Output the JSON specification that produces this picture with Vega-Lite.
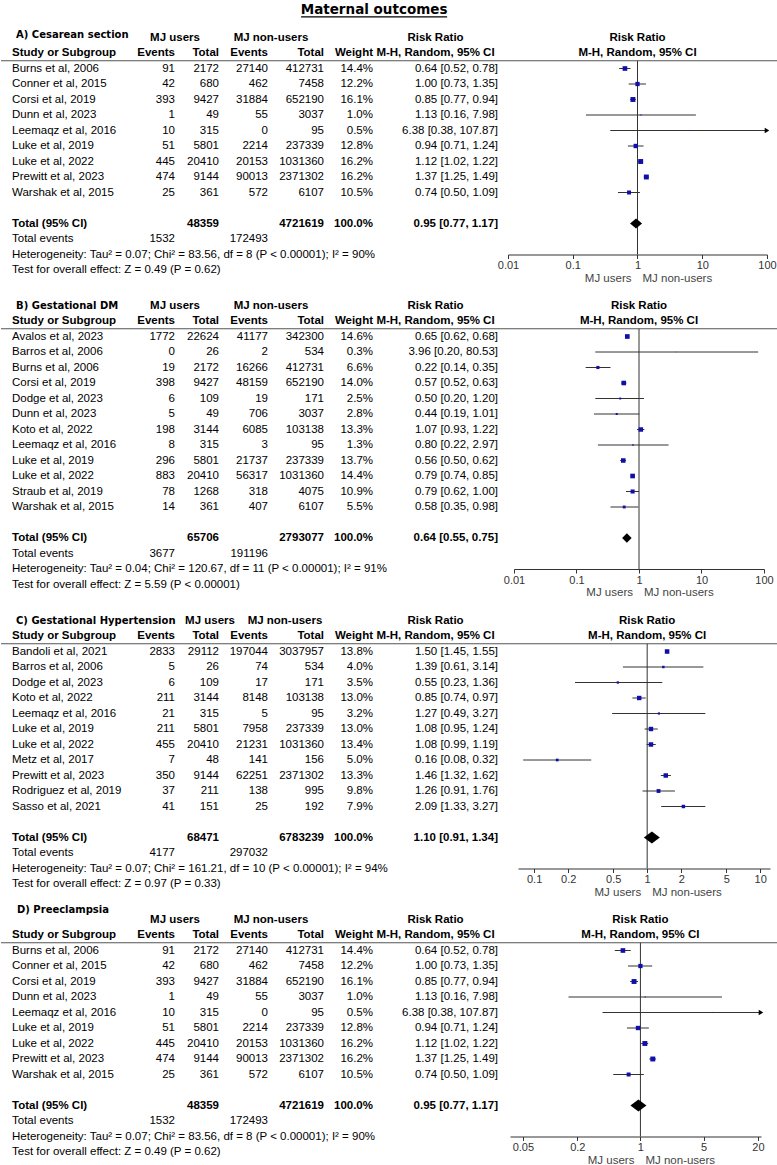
{
"$schema":"https://vega.github.io/schema/vega-lite/v6.json",
"padding":0,
"background":"white",
"config":{"view":{"stroke":null},"axisBand":{"disable":true},"axisY":{"disable":true},"legend":{"disable":true},"text":{"font":"Liberation Sans","fontSize":11.5},"axis":{"labelFont":"Liberation Sans"}},
"datasets":{
"A":[
{"study":"Burns et al, 2006","e1":91,"n1":2172,"e2":27140,"n2":412731,"w":0.144,"rr":0.64,"lo":0.52,"hi":0.78,"ci":"0.64 [0.52, 0.78]"},
{"study":"Conner et al, 2015","e1":42,"n1":680,"e2":462,"n2":7458,"w":0.122,"rr":1.0,"lo":0.73,"hi":1.35,"ci":"1.00 [0.73, 1.35]"},
{"study":"Corsi et al, 2019","e1":393,"n1":9427,"e2":31884,"n2":652190,"w":0.161,"rr":0.85,"lo":0.77,"hi":0.94,"ci":"0.85 [0.77, 0.94]"},
{"study":"Dunn et al, 2023","e1":1,"n1":49,"e2":55,"n2":3037,"w":0.01,"rr":1.13,"lo":0.16,"hi":7.98,"ci":"1.13 [0.16, 7.98]"},
{"study":"Leemaqz et al, 2016","e1":10,"n1":315,"e2":0,"n2":95,"w":0.005,"rr":6.38,"lo":0.38,"hi":107.87,"ci":"6.38 [0.38, 107.87]"},
{"study":"Luke et al, 2019","e1":51,"n1":5801,"e2":2214,"n2":237339,"w":0.128,"rr":0.94,"lo":0.71,"hi":1.24,"ci":"0.94 [0.71, 1.24]"},
{"study":"Luke et al, 2022","e1":445,"n1":20410,"e2":20153,"n2":1031360,"w":0.162,"rr":1.12,"lo":1.02,"hi":1.22,"ci":"1.12 [1.02, 1.22]"},
{"study":"Prewitt et al, 2023","e1":474,"n1":9144,"e2":90013,"n2":2371302,"w":0.162,"rr":1.37,"lo":1.25,"hi":1.49,"ci":"1.37 [1.25, 1.49]"},
{"study":"Warshak et al, 2015","e1":25,"n1":361,"e2":572,"n2":6107,"w":0.105,"rr":0.74,"lo":0.5,"hi":1.09,"ci":"0.74 [0.50, 1.09]"}
],
"A_tot":[{"label":"Total (95% CI)","e1":1532,"n1":48359,"e2":172493,"n2":4721619,"w":1,"rr":0.95,"lo":0.77,"hi":1.17,"ci":"0.95 [0.77, 1.17]","het":"Heterogeneity: Tau² = 0.07; Chi² = 83.56, df = 8 (P < 0.00001); I² = 90%","test":"Test for overall effect: Z = 0.49 (P = 0.62)"}],
"B":[
{"study":"Avalos et al, 2023","e1":1772,"n1":22624,"e2":41177,"n2":342300,"w":0.146,"rr":0.65,"lo":0.62,"hi":0.68,"ci":"0.65 [0.62, 0.68]"},
{"study":"Barros et al, 2006","e1":0,"n1":26,"e2":2,"n2":534,"w":0.003,"rr":3.96,"lo":0.2,"hi":80.53,"ci":"3.96 [0.20, 80.53]"},
{"study":"Burns et al, 2006","e1":19,"n1":2172,"e2":16266,"n2":412731,"w":0.066,"rr":0.22,"lo":0.14,"hi":0.35,"ci":"0.22 [0.14, 0.35]"},
{"study":"Corsi et al, 2019","e1":398,"n1":9427,"e2":48159,"n2":652190,"w":0.14,"rr":0.57,"lo":0.52,"hi":0.63,"ci":"0.57 [0.52, 0.63]"},
{"study":"Dodge et al, 2023","e1":6,"n1":109,"e2":19,"n2":171,"w":0.025,"rr":0.5,"lo":0.2,"hi":1.2,"ci":"0.50 [0.20, 1.20]"},
{"study":"Dunn et al, 2023","e1":5,"n1":49,"e2":706,"n2":3037,"w":0.028,"rr":0.44,"lo":0.19,"hi":1.01,"ci":"0.44 [0.19, 1.01]"},
{"study":"Koto et al, 2022","e1":198,"n1":3144,"e2":6085,"n2":103138,"w":0.133,"rr":1.07,"lo":0.93,"hi":1.22,"ci":"1.07 [0.93, 1.22]"},
{"study":"Leemaqz et al, 2016","e1":8,"n1":315,"e2":3,"n2":95,"w":0.013,"rr":0.8,"lo":0.22,"hi":2.97,"ci":"0.80 [0.22, 2.97]"},
{"study":"Luke et al, 2019","e1":296,"n1":5801,"e2":21737,"n2":237339,"w":0.137,"rr":0.56,"lo":0.5,"hi":0.62,"ci":"0.56 [0.50, 0.62]"},
{"study":"Luke et al, 2022","e1":883,"n1":20410,"e2":56317,"n2":1031360,"w":0.144,"rr":0.79,"lo":0.74,"hi":0.85,"ci":"0.79 [0.74, 0.85]"},
{"study":"Straub et al, 2019","e1":78,"n1":1268,"e2":318,"n2":4075,"w":0.109,"rr":0.79,"lo":0.62,"hi":1.0,"ci":"0.79 [0.62, 1.00]"},
{"study":"Warshak et al, 2015","e1":14,"n1":361,"e2":407,"n2":6107,"w":0.055,"rr":0.58,"lo":0.35,"hi":0.98,"ci":"0.58 [0.35, 0.98]"}
],
"B_tot":[{"label":"Total (95% CI)","e1":3677,"n1":65706,"e2":191196,"n2":2793077,"w":1,"rr":0.64,"lo":0.55,"hi":0.75,"ci":"0.64 [0.55, 0.75]","het":"Heterogeneity: Tau² = 0.04; Chi² = 120.67, df = 11 (P < 0.00001); I² = 91%","test":"Test for overall effect: Z = 5.59 (P < 0.00001)"}],
"C":[
{"study":"Bandoli et al, 2021","e1":2833,"n1":29112,"e2":197044,"n2":3037957,"w":0.138,"rr":1.5,"lo":1.45,"hi":1.55,"ci":"1.50 [1.45, 1.55]"},
{"study":"Barros et al, 2006","e1":5,"n1":26,"e2":74,"n2":534,"w":0.04,"rr":1.39,"lo":0.61,"hi":3.14,"ci":"1.39 [0.61, 3.14]"},
{"study":"Dodge et al, 2023","e1":6,"n1":109,"e2":17,"n2":171,"w":0.035,"rr":0.55,"lo":0.23,"hi":1.36,"ci":"0.55 [0.23, 1.36]"},
{"study":"Koto et al, 2022","e1":211,"n1":3144,"e2":8148,"n2":103138,"w":0.13,"rr":0.85,"lo":0.74,"hi":0.97,"ci":"0.85 [0.74, 0.97]"},
{"study":"Leemaqz et al, 2016","e1":21,"n1":315,"e2":5,"n2":95,"w":0.032,"rr":1.27,"lo":0.49,"hi":3.27,"ci":"1.27 [0.49, 3.27]"},
{"study":"Luke et al, 2019","e1":211,"n1":5801,"e2":7958,"n2":237339,"w":0.13,"rr":1.08,"lo":0.95,"hi":1.24,"ci":"1.08 [0.95, 1.24]"},
{"study":"Luke et al, 2022","e1":455,"n1":20410,"e2":21231,"n2":1031360,"w":0.134,"rr":1.08,"lo":0.99,"hi":1.19,"ci":"1.08 [0.99, 1.19]"},
{"study":"Metz et al, 2017","e1":7,"n1":48,"e2":141,"n2":156,"w":0.05,"rr":0.16,"lo":0.08,"hi":0.32,"ci":"0.16 [0.08, 0.32]"},
{"study":"Prewitt et al, 2023","e1":350,"n1":9144,"e2":62251,"n2":2371302,"w":0.133,"rr":1.46,"lo":1.32,"hi":1.62,"ci":"1.46 [1.32, 1.62]"},
{"study":"Rodriguez et al, 2019","e1":37,"n1":211,"e2":138,"n2":995,"w":0.098,"rr":1.26,"lo":0.91,"hi":1.76,"ci":"1.26 [0.91, 1.76]"},
{"study":"Sasso et al, 2021","e1":41,"n1":151,"e2":25,"n2":192,"w":0.079,"rr":2.09,"lo":1.33,"hi":3.27,"ci":"2.09 [1.33, 3.27]"}
],
"C_tot":[{"label":"Total (95% CI)","e1":4177,"n1":68471,"e2":297032,"n2":6783239,"w":1,"rr":1.1,"lo":0.91,"hi":1.34,"ci":"1.10 [0.91, 1.34]","het":"Heterogeneity: Tau² = 0.07; Chi² = 161.21, df = 10 (P < 0.00001); I² = 94%","test":"Test for overall effect: Z = 0.97 (P = 0.33)"}],
"D":[
{"study":"Burns et al, 2006","e1":91,"n1":2172,"e2":27140,"n2":412731,"w":0.144,"rr":0.64,"lo":0.52,"hi":0.78,"ci":"0.64 [0.52, 0.78]"},
{"study":"Conner et al, 2015","e1":42,"n1":680,"e2":462,"n2":7458,"w":0.122,"rr":1.0,"lo":0.73,"hi":1.35,"ci":"1.00 [0.73, 1.35]"},
{"study":"Corsi et al, 2019","e1":393,"n1":9427,"e2":31884,"n2":652190,"w":0.161,"rr":0.85,"lo":0.77,"hi":0.94,"ci":"0.85 [0.77, 0.94]"},
{"study":"Dunn et al, 2023","e1":1,"n1":49,"e2":55,"n2":3037,"w":0.01,"rr":1.13,"lo":0.16,"hi":7.98,"ci":"1.13 [0.16, 7.98]"},
{"study":"Leemaqz et al, 2016","e1":10,"n1":315,"e2":0,"n2":95,"w":0.005,"rr":6.38,"lo":0.38,"hi":107.87,"ci":"6.38 [0.38, 107.87]"},
{"study":"Luke et al, 2019","e1":51,"n1":5801,"e2":2214,"n2":237339,"w":0.128,"rr":0.94,"lo":0.71,"hi":1.24,"ci":"0.94 [0.71, 1.24]"},
{"study":"Luke et al, 2022","e1":445,"n1":20410,"e2":20153,"n2":1031360,"w":0.162,"rr":1.12,"lo":1.02,"hi":1.22,"ci":"1.12 [1.02, 1.22]"},
{"study":"Prewitt et al, 2023","e1":474,"n1":9144,"e2":90013,"n2":2371302,"w":0.162,"rr":1.37,"lo":1.25,"hi":1.49,"ci":"1.37 [1.25, 1.49]"},
{"study":"Warshak et al, 2015","e1":25,"n1":361,"e2":572,"n2":6107,"w":0.105,"rr":0.74,"lo":0.5,"hi":1.09,"ci":"0.74 [0.50, 1.09]"}
],
"D_tot":[{"label":"Total (95% CI)","e1":1532,"n1":48359,"e2":172493,"n2":4721619,"w":1,"rr":0.95,"lo":0.77,"hi":1.17,"ci":"0.95 [0.77, 1.17]","het":"Heterogeneity: Tau² = 0.07; Chi² = 83.56, df = 8 (P < 0.00001); I² = 90%","test":"Test for overall effect: Z = 0.49 (P = 0.62)"}]
},
"spacing":10.2,
"bounds":"flush",
"vconcat":[
{"width":777,"height":17.5,"data":{"values":[{"t":"Maternal outcomes"}]},"layer":[
{"mark":{"type":"text","font":"DejaVu Sans","fontWeight":"bold","fontSize":13.5,"baseline":"alphabetic","dy":5},"encoding":{"x":{"field":"t","type":"nominal","scale":{"type":"band","domain":["l1","l2","Maternal outcomes","r1","r2"],"paddingInner":0,"paddingOuter":0.16,"align":0.17}},"text":{"field":"t"}}},
{"mark":{"type":"bar","color":"#000"},"encoding":{"x":{"field":"t","type":"nominal"},"y":{"datum":"u","type":"nominal","scale":{"type":"band","domain":["t","u"],"paddingInner":0.92,"paddingOuter":0}}}}
]},
{"columns":8,"align":"each","spacing":{"row":18,"column":0},"bounds":"flush","concat":[

{"width":130,"height":249.55,"data":{"name":"A"},"layer":[
{"mark":{"type":"text","align":"left"},"encoding":{"x":{"datum":"c","type":"nominal","bandPosition":0,"scale":{"type":"band","paddingInner":0,"paddingOuter":0.102}},"y":{"field":"study","type":"nominal","scale":{"type":"band","domain":["h1","h2","Burns et al, 2006","Conner et al, 2015","Corsi et al, 2019","Dunn et al, 2023","Leemaqz et al, 2016","Luke et al, 2019","Luke et al, 2022","Prewitt et al, 2023","Warshak et al, 2015","gap","Total (95% CI)","Total events","Heterogeneity","Test"],"paddingInner":0,"paddingOuter":0.05,"align":1}},"text":{"field":"study"}}},
{"data":{"name":"A_tot"},"mark":{"type":"text","align":"left","fontWeight":"bold"},"encoding":{"x":{"datum":"c","type":"nominal","bandPosition":0},"y":{"datum":"Total (95% CI)","type":"nominal"},"text":{"field":"label"}}},
{"data":{"name":"A_tot"},"mark":{"type":"text","align":"left"},"encoding":{"x":{"datum":"c","type":"nominal","bandPosition":0},"y":{"datum":"Total events","type":"nominal"},"text":{"value":"Total events"}}},
{"data":{"name":"A_tot"},"mark":{"type":"text","align":"left"},"encoding":{"x":{"datum":"c","type":"nominal","bandPosition":0},"y":{"datum":"Heterogeneity","type":"nominal"},"text":{"field":"het"}}},
{"data":{"name":"A_tot"},"mark":{"type":"text","align":"left"},"encoding":{"x":{"datum":"c","type":"nominal","bandPosition":0},"y":{"datum":"Test","type":"nominal"},"text":{"field":"test"}}},
{"data":{"name":"A_tot"},"mark":{"type":"text","align":"left","font":"DejaVu Sans","fontWeight":"bold","fontSize":10,"dx":4,"dy":-3},"encoding":{"x":{"datum":"c","type":"nominal","bandPosition":0},"y":{"datum":"h1","type":"nominal"},"text":{"value":"A) Cesarean section"}}},
{"data":{"name":"A_tot"},"mark":{"type":"text","align":"left","fontWeight":"bold"},"encoding":{"x":{"datum":"c","type":"nominal","bandPosition":0},"y":{"datum":"h2","type":"nominal"},"text":{"value":"Study or Subgroup"}}},
{"data":{"name":"A_tot"},"mark":{"type":"rule","color":"#555","strokeWidth":1.2},"encoding":{"y":{"datum":"Burns et al, 2006","type":"nominal","bandPosition":0}}}
]},
{"width":44,"height":249.55,"data":{"name":"A"},"layer":[
{"mark":{"type":"text","align":"right"},"encoding":{"x":{"datum":"c","type":"nominal","bandPosition":1,"scale":{"type":"band","paddingInner":0,"paddingOuter":0}},"y":{"field":"study","type":"nominal","scale":{"type":"band","domain":["h1","h2","Burns et al, 2006","Conner et al, 2015","Corsi et al, 2019","Dunn et al, 2023","Leemaqz et al, 2016","Luke et al, 2019","Luke et al, 2022","Prewitt et al, 2023","Warshak et al, 2015","gap","Total (95% CI)","Total events","Heterogeneity","Test"],"paddingInner":0,"paddingOuter":0.05,"align":1}},"text":{"field":"e1","type":"quantitative","format":"d"}}},
{"data":{"name":"A_tot"},"mark":{"type":"text","align":"right"},"encoding":{"x":{"datum":"c","type":"nominal","bandPosition":1},"y":{"datum":"Total events","type":"nominal"},"text":{"field":"e1","type":"quantitative","format":"d"}}},
{"data":{"name":"A_tot"},"mark":{"type":"text","align":"center","fontWeight":"bold"},"encoding":{"x":{"datum":"c","type":"nominal","bandPosition":1},"y":{"datum":"h1","type":"nominal"},"text":{"value":"MJ users"}}},
{"data":{"name":"A_tot"},"mark":{"type":"text","align":"right","fontWeight":"bold"},"encoding":{"x":{"datum":"c","type":"nominal","bandPosition":1},"y":{"datum":"h2","type":"nominal"},"text":{"value":"Events"}}},
{"data":{"name":"A_tot"},"mark":{"type":"rule","color":"#555","strokeWidth":1.2},"encoding":{"y":{"datum":"Burns et al, 2006","type":"nominal","bandPosition":0}}}
]},
{"width":44,"height":249.55,"data":{"name":"A"},"layer":[
{"mark":{"type":"text","align":"right"},"encoding":{"x":{"datum":"c","type":"nominal","bandPosition":1,"scale":{"type":"band","paddingInner":0,"paddingOuter":0}},"y":{"field":"study","type":"nominal","scale":{"type":"band","domain":["h1","h2","Burns et al, 2006","Conner et al, 2015","Corsi et al, 2019","Dunn et al, 2023","Leemaqz et al, 2016","Luke et al, 2019","Luke et al, 2022","Prewitt et al, 2023","Warshak et al, 2015","gap","Total (95% CI)","Total events","Heterogeneity","Test"],"paddingInner":0,"paddingOuter":0.05,"align":1}},"text":{"field":"n1","type":"quantitative","format":"d"}}},
{"data":{"name":"A_tot"},"mark":{"type":"text","align":"right","fontWeight":"bold"},"encoding":{"x":{"datum":"c","type":"nominal","bandPosition":1},"y":{"datum":"Total (95% CI)","type":"nominal"},"text":{"field":"n1","type":"quantitative","format":"d"}}},
{"data":{"name":"A_tot"},"mark":{"type":"text","align":"right","fontWeight":"bold"},"encoding":{"x":{"datum":"c","type":"nominal","bandPosition":1},"y":{"datum":"h2","type":"nominal"},"text":{"value":"Total"}}},
{"data":{"name":"A_tot"},"mark":{"type":"rule","color":"#555","strokeWidth":1.2},"encoding":{"y":{"datum":"Burns et al, 2006","type":"nominal","bandPosition":0}}}
]},
{"width":49,"height":249.55,"data":{"name":"A"},"layer":[
{"mark":{"type":"text","align":"right"},"encoding":{"x":{"datum":"c","type":"nominal","bandPosition":1,"scale":{"type":"band","paddingInner":0,"paddingOuter":0}},"y":{"field":"study","type":"nominal","scale":{"type":"band","domain":["h1","h2","Burns et al, 2006","Conner et al, 2015","Corsi et al, 2019","Dunn et al, 2023","Leemaqz et al, 2016","Luke et al, 2019","Luke et al, 2022","Prewitt et al, 2023","Warshak et al, 2015","gap","Total (95% CI)","Total events","Heterogeneity","Test"],"paddingInner":0,"paddingOuter":0.05,"align":1}},"text":{"field":"e2","type":"quantitative","format":"d"}}},
{"data":{"name":"A_tot"},"mark":{"type":"text","align":"right"},"encoding":{"x":{"datum":"c","type":"nominal","bandPosition":1},"y":{"datum":"Total events","type":"nominal"},"text":{"field":"e2","type":"quantitative","format":"d"}}},
{"data":{"name":"A_tot"},"mark":{"type":"text","align":"center","fontWeight":"bold","dx":3},"encoding":{"x":{"datum":"c","type":"nominal","bandPosition":1},"y":{"datum":"h1","type":"nominal"},"text":{"value":"MJ non-users"}}},
{"data":{"name":"A_tot"},"mark":{"type":"text","align":"right","fontWeight":"bold"},"encoding":{"x":{"datum":"c","type":"nominal","bandPosition":1},"y":{"datum":"h2","type":"nominal"},"text":{"value":"Events"}}},
{"data":{"name":"A_tot"},"mark":{"type":"rule","color":"#555","strokeWidth":1.2},"encoding":{"y":{"datum":"Burns et al, 2006","type":"nominal","bandPosition":0}}}
]},
{"width":56,"height":249.55,"data":{"name":"A"},"layer":[
{"mark":{"type":"text","align":"right"},"encoding":{"x":{"datum":"c","type":"nominal","bandPosition":1,"scale":{"type":"band","paddingInner":0,"paddingOuter":0}},"y":{"field":"study","type":"nominal","scale":{"type":"band","domain":["h1","h2","Burns et al, 2006","Conner et al, 2015","Corsi et al, 2019","Dunn et al, 2023","Leemaqz et al, 2016","Luke et al, 2019","Luke et al, 2022","Prewitt et al, 2023","Warshak et al, 2015","gap","Total (95% CI)","Total events","Heterogeneity","Test"],"paddingInner":0,"paddingOuter":0.05,"align":1}},"text":{"field":"n2","type":"quantitative","format":"d"}}},
{"data":{"name":"A_tot"},"mark":{"type":"text","align":"right","fontWeight":"bold"},"encoding":{"x":{"datum":"c","type":"nominal","bandPosition":1},"y":{"datum":"Total (95% CI)","type":"nominal"},"text":{"field":"n2","type":"quantitative","format":"d"}}},
{"data":{"name":"A_tot"},"mark":{"type":"text","align":"right","fontWeight":"bold"},"encoding":{"x":{"datum":"c","type":"nominal","bandPosition":1},"y":{"datum":"h2","type":"nominal"},"text":{"value":"Total"}}},
{"data":{"name":"A_tot"},"mark":{"type":"rule","color":"#555","strokeWidth":1.2},"encoding":{"y":{"datum":"Burns et al, 2006","type":"nominal","bandPosition":0}}}
]},
{"width":49,"height":249.55,"data":{"name":"A"},"layer":[
{"mark":{"type":"text","align":"right"},"encoding":{"x":{"datum":"c","type":"nominal","bandPosition":1,"scale":{"type":"band","paddingInner":0,"paddingOuter":0}},"y":{"field":"study","type":"nominal","scale":{"type":"band","domain":["h1","h2","Burns et al, 2006","Conner et al, 2015","Corsi et al, 2019","Dunn et al, 2023","Leemaqz et al, 2016","Luke et al, 2019","Luke et al, 2022","Prewitt et al, 2023","Warshak et al, 2015","gap","Total (95% CI)","Total events","Heterogeneity","Test"],"paddingInner":0,"paddingOuter":0.05,"align":1}},"text":{"field":"w","type":"quantitative","format":".1%"}}},
{"data":{"name":"A_tot"},"mark":{"type":"text","align":"right","fontWeight":"bold"},"encoding":{"x":{"datum":"c","type":"nominal","bandPosition":1},"y":{"datum":"Total (95% CI)","type":"nominal"},"text":{"field":"w","type":"quantitative","format":".1%"}}},
{"data":{"name":"A_tot"},"mark":{"type":"text","align":"right","fontWeight":"bold"},"encoding":{"x":{"datum":"c","type":"nominal","bandPosition":1},"y":{"datum":"h2","type":"nominal"},"text":{"value":"Weight"}}},
{"data":{"name":"A_tot"},"mark":{"type":"rule","color":"#555","strokeWidth":1.2},"encoding":{"y":{"datum":"Burns et al, 2006","type":"nominal","bandPosition":0}}}
]},
{"width":135,"height":249.55,"data":{"name":"A"},"layer":[
{"mark":{"type":"text","align":"right"},"encoding":{"x":{"datum":"c","type":"nominal","bandPosition":1,"scale":{"type":"band","paddingInner":0,"paddingOuter":0.04,"align":0}},"y":{"field":"study","type":"nominal","scale":{"type":"band","domain":["h1","h2","Burns et al, 2006","Conner et al, 2015","Corsi et al, 2019","Dunn et al, 2023","Leemaqz et al, 2016","Luke et al, 2019","Luke et al, 2022","Prewitt et al, 2023","Warshak et al, 2015","gap","Total (95% CI)","Total events","Heterogeneity","Test"],"paddingInner":0,"paddingOuter":0.05,"align":1}},"text":{"field":"ci"}}},
{"data":{"name":"A_tot"},"mark":{"type":"text","align":"right","fontWeight":"bold"},"encoding":{"x":{"datum":"c","type":"nominal","bandPosition":1},"y":{"datum":"Total (95% CI)","type":"nominal"},"text":{"field":"ci"}}},
{"data":{"name":"A_tot"},"mark":{"type":"text","align":"center","fontWeight":"bold"},"encoding":{"x":{"datum":"c","type":"nominal","bandPosition":0.5},"y":{"datum":"h1","type":"nominal"},"text":{"value":"Risk Ratio"}}},
{"data":{"name":"A_tot"},"mark":{"type":"text","align":"center","fontWeight":"bold"},"encoding":{"x":{"datum":"c","type":"nominal","bandPosition":0.5},"y":{"datum":"h2","type":"nominal"},"text":{"value":"M-H, Random, 95% CI"}}},
{"data":{"name":"A_tot"},"mark":{"type":"rule","color":"#555","strokeWidth":1.2},"encoding":{"y":{"datum":"Burns et al, 2006","type":"nominal","bandPosition":0}}}
]},
{"width":270,"height":226.3,"data":{"name":"A"},"layer":[
{"mark":{"type":"rule","color":"#333"},"encoding":{"x":{"field":"lo","type":"quantitative","scale":{"type":"log","domain":[0.01,100],"range":[0,259],"clamp":true,"nice":false},"axis":{"values":[0.01,0.1,1,10,100],"format":"~g","title":null,"grid":false,"tickSize":4,"labelPadding":1,"labelFontSize":11,"labelColor":"#333","domainColor":"#333","tickColor":"#333","labelFlush":false,"labelOverlap":false}},"x2":{"field":"hi"},"y":{"field":"study","type":"nominal","scale":{"type":"band","domain":["h1","h2","Burns et al, 2006","Conner et al, 2015","Corsi et al, 2019","Dunn et al, 2023","Leemaqz et al, 2016","Luke et al, 2019","Luke et al, 2022","Prewitt et al, 2023","Warshak et al, 2015","gap","Total (95% CI)","Total events"],"paddingInner":0,"paddingOuter":0.3,"align":0.16667}}}},
{"data":{"name":"A_tot"},"mark":{"type":"rule","color":"#555","strokeWidth":1.2},"encoding":{"y":{"datum":"Burns et al, 2006","type":"nominal","bandPosition":0}}},
{"data":{"name":"A_tot"},"mark":{"type":"rule","color":"#333"},"encoding":{"x":{"datum":1,"type":"quantitative"},"y":{"datum":"Burns et al, 2006","type":"nominal","bandPosition":0},"y2":{"value":"height"}}},
{"transform":[{"filter":"datum.hi > 100"}],"mark":{"type":"point","shape":"triangle-right","filled":true,"color":"#000","opacity":1,"size":28},"encoding":{"x":{"field":"hi","type":"quantitative"},"y":{"field":"study","type":"nominal"}}},
{"mark":{"type":"square","color":"#1010a8","opacity":1},"encoding":{"x":{"field":"rr","type":"quantitative"},"y":{"field":"study","type":"nominal"},"size":{"field":"w","type":"quantitative","scale":{"type":"linear","domain":[0,0.2],"range":[0,30]},"legend":null}}},
{"data":{"name":"A_tot"},"mark":{"type":"point","shape":"M-1,0L0,-0.85L1,0L0,0.85Z","filled":true,"color":"#000","opacity":1,"size":144},"encoding":{"x":{"field":"rr","type":"quantitative"},"y":{"datum":"Total (95% CI)","type":"nominal"}}},
{"data":{"name":"A_tot"},"mark":{"type":"text","fontWeight":"bold"},"encoding":{"x":{"datum":1,"type":"quantitative"},"y":{"datum":"h1","type":"nominal"},"text":{"value":"Risk Ratio"}}},
{"data":{"name":"A_tot"},"mark":{"type":"text","fontWeight":"bold"},"encoding":{"x":{"datum":1,"type":"quantitative"},"y":{"datum":"h2","type":"nominal"},"text":{"value":"M-H, Random, 95% CI"}}},
{"data":{"name":"A_tot"},"mark":{"type":"text","align":"right","dx":-6,"dy":24,"color":"#444"},"encoding":{"x":{"datum":1,"type":"quantitative"},"y":{"value":"height"},"text":{"value":"MJ users"}}},
{"data":{"name":"A_tot"},"mark":{"type":"text","align":"left","dx":5,"dy":24,"color":"#444"},"encoding":{"x":{"datum":1,"type":"quantitative"},"y":{"value":"height"},"text":{"value":"MJ non-users"}}}
]},

{"width":130,"height":296.05,"data":{"name":"B"},"layer":[
{"mark":{"type":"text","align":"left"},"encoding":{"x":{"datum":"c","type":"nominal","bandPosition":0,"scale":{"type":"band","paddingInner":0,"paddingOuter":0.102}},"y":{"field":"study","type":"nominal","scale":{"type":"band","domain":["h1","h2","Avalos et al, 2023","Barros et al, 2006","Burns et al, 2006","Corsi et al, 2019","Dodge et al, 2023","Dunn et al, 2023","Koto et al, 2022","Leemaqz et al, 2016","Luke et al, 2019","Luke et al, 2022","Straub et al, 2019","Warshak et al, 2015","gap","Total (95% CI)","Total events","Heterogeneity","Test"],"paddingInner":0,"paddingOuter":0.05,"align":1}},"text":{"field":"study"}}},
{"data":{"name":"B_tot"},"mark":{"type":"text","align":"left","fontWeight":"bold"},"encoding":{"x":{"datum":"c","type":"nominal","bandPosition":0},"y":{"datum":"Total (95% CI)","type":"nominal"},"text":{"field":"label"}}},
{"data":{"name":"B_tot"},"mark":{"type":"text","align":"left"},"encoding":{"x":{"datum":"c","type":"nominal","bandPosition":0},"y":{"datum":"Total events","type":"nominal"},"text":{"value":"Total events"}}},
{"data":{"name":"B_tot"},"mark":{"type":"text","align":"left"},"encoding":{"x":{"datum":"c","type":"nominal","bandPosition":0},"y":{"datum":"Heterogeneity","type":"nominal"},"text":{"field":"het"}}},
{"data":{"name":"B_tot"},"mark":{"type":"text","align":"left"},"encoding":{"x":{"datum":"c","type":"nominal","bandPosition":0},"y":{"datum":"Test","type":"nominal"},"text":{"field":"test"}}},
{"data":{"name":"B_tot"},"mark":{"type":"text","align":"left","font":"DejaVu Sans","fontWeight":"bold","fontSize":10,"dx":4},"encoding":{"x":{"datum":"c","type":"nominal","bandPosition":0},"y":{"datum":"h1","type":"nominal"},"text":{"value":"B) Gestational DM"}}},
{"data":{"name":"B_tot"},"mark":{"type":"text","align":"left","fontWeight":"bold"},"encoding":{"x":{"datum":"c","type":"nominal","bandPosition":0},"y":{"datum":"h2","type":"nominal"},"text":{"value":"Study or Subgroup"}}},
{"data":{"name":"B_tot"},"mark":{"type":"rule","color":"#555","strokeWidth":1.2},"encoding":{"y":{"datum":"Avalos et al, 2023","type":"nominal","bandPosition":0}}}
]},
{"width":44,"height":296.05,"data":{"name":"B"},"layer":[
{"mark":{"type":"text","align":"right"},"encoding":{"x":{"datum":"c","type":"nominal","bandPosition":1,"scale":{"type":"band","paddingInner":0,"paddingOuter":0}},"y":{"field":"study","type":"nominal","scale":{"type":"band","domain":["h1","h2","Avalos et al, 2023","Barros et al, 2006","Burns et al, 2006","Corsi et al, 2019","Dodge et al, 2023","Dunn et al, 2023","Koto et al, 2022","Leemaqz et al, 2016","Luke et al, 2019","Luke et al, 2022","Straub et al, 2019","Warshak et al, 2015","gap","Total (95% CI)","Total events","Heterogeneity","Test"],"paddingInner":0,"paddingOuter":0.05,"align":1}},"text":{"field":"e1","type":"quantitative","format":"d"}}},
{"data":{"name":"B_tot"},"mark":{"type":"text","align":"right"},"encoding":{"x":{"datum":"c","type":"nominal","bandPosition":1},"y":{"datum":"Total events","type":"nominal"},"text":{"field":"e1","type":"quantitative","format":"d"}}},
{"data":{"name":"B_tot"},"mark":{"type":"text","align":"center","fontWeight":"bold"},"encoding":{"x":{"datum":"c","type":"nominal","bandPosition":1},"y":{"datum":"h1","type":"nominal"},"text":{"value":"MJ users"}}},
{"data":{"name":"B_tot"},"mark":{"type":"text","align":"right","fontWeight":"bold"},"encoding":{"x":{"datum":"c","type":"nominal","bandPosition":1},"y":{"datum":"h2","type":"nominal"},"text":{"value":"Events"}}},
{"data":{"name":"B_tot"},"mark":{"type":"rule","color":"#555","strokeWidth":1.2},"encoding":{"y":{"datum":"Avalos et al, 2023","type":"nominal","bandPosition":0}}}
]},
{"width":44,"height":296.05,"data":{"name":"B"},"layer":[
{"mark":{"type":"text","align":"right"},"encoding":{"x":{"datum":"c","type":"nominal","bandPosition":1,"scale":{"type":"band","paddingInner":0,"paddingOuter":0}},"y":{"field":"study","type":"nominal","scale":{"type":"band","domain":["h1","h2","Avalos et al, 2023","Barros et al, 2006","Burns et al, 2006","Corsi et al, 2019","Dodge et al, 2023","Dunn et al, 2023","Koto et al, 2022","Leemaqz et al, 2016","Luke et al, 2019","Luke et al, 2022","Straub et al, 2019","Warshak et al, 2015","gap","Total (95% CI)","Total events","Heterogeneity","Test"],"paddingInner":0,"paddingOuter":0.05,"align":1}},"text":{"field":"n1","type":"quantitative","format":"d"}}},
{"data":{"name":"B_tot"},"mark":{"type":"text","align":"right","fontWeight":"bold"},"encoding":{"x":{"datum":"c","type":"nominal","bandPosition":1},"y":{"datum":"Total (95% CI)","type":"nominal"},"text":{"field":"n1","type":"quantitative","format":"d"}}},
{"data":{"name":"B_tot"},"mark":{"type":"text","align":"right","fontWeight":"bold"},"encoding":{"x":{"datum":"c","type":"nominal","bandPosition":1},"y":{"datum":"h2","type":"nominal"},"text":{"value":"Total"}}},
{"data":{"name":"B_tot"},"mark":{"type":"rule","color":"#555","strokeWidth":1.2},"encoding":{"y":{"datum":"Avalos et al, 2023","type":"nominal","bandPosition":0}}}
]},
{"width":49,"height":296.05,"data":{"name":"B"},"layer":[
{"mark":{"type":"text","align":"right"},"encoding":{"x":{"datum":"c","type":"nominal","bandPosition":1,"scale":{"type":"band","paddingInner":0,"paddingOuter":0}},"y":{"field":"study","type":"nominal","scale":{"type":"band","domain":["h1","h2","Avalos et al, 2023","Barros et al, 2006","Burns et al, 2006","Corsi et al, 2019","Dodge et al, 2023","Dunn et al, 2023","Koto et al, 2022","Leemaqz et al, 2016","Luke et al, 2019","Luke et al, 2022","Straub et al, 2019","Warshak et al, 2015","gap","Total (95% CI)","Total events","Heterogeneity","Test"],"paddingInner":0,"paddingOuter":0.05,"align":1}},"text":{"field":"e2","type":"quantitative","format":"d"}}},
{"data":{"name":"B_tot"},"mark":{"type":"text","align":"right"},"encoding":{"x":{"datum":"c","type":"nominal","bandPosition":1},"y":{"datum":"Total events","type":"nominal"},"text":{"field":"e2","type":"quantitative","format":"d"}}},
{"data":{"name":"B_tot"},"mark":{"type":"text","align":"center","fontWeight":"bold","dx":3},"encoding":{"x":{"datum":"c","type":"nominal","bandPosition":1},"y":{"datum":"h1","type":"nominal"},"text":{"value":"MJ non-users"}}},
{"data":{"name":"B_tot"},"mark":{"type":"text","align":"right","fontWeight":"bold"},"encoding":{"x":{"datum":"c","type":"nominal","bandPosition":1},"y":{"datum":"h2","type":"nominal"},"text":{"value":"Events"}}},
{"data":{"name":"B_tot"},"mark":{"type":"rule","color":"#555","strokeWidth":1.2},"encoding":{"y":{"datum":"Avalos et al, 2023","type":"nominal","bandPosition":0}}}
]},
{"width":56,"height":296.05,"data":{"name":"B"},"layer":[
{"mark":{"type":"text","align":"right"},"encoding":{"x":{"datum":"c","type":"nominal","bandPosition":1,"scale":{"type":"band","paddingInner":0,"paddingOuter":0}},"y":{"field":"study","type":"nominal","scale":{"type":"band","domain":["h1","h2","Avalos et al, 2023","Barros et al, 2006","Burns et al, 2006","Corsi et al, 2019","Dodge et al, 2023","Dunn et al, 2023","Koto et al, 2022","Leemaqz et al, 2016","Luke et al, 2019","Luke et al, 2022","Straub et al, 2019","Warshak et al, 2015","gap","Total (95% CI)","Total events","Heterogeneity","Test"],"paddingInner":0,"paddingOuter":0.05,"align":1}},"text":{"field":"n2","type":"quantitative","format":"d"}}},
{"data":{"name":"B_tot"},"mark":{"type":"text","align":"right","fontWeight":"bold"},"encoding":{"x":{"datum":"c","type":"nominal","bandPosition":1},"y":{"datum":"Total (95% CI)","type":"nominal"},"text":{"field":"n2","type":"quantitative","format":"d"}}},
{"data":{"name":"B_tot"},"mark":{"type":"text","align":"right","fontWeight":"bold"},"encoding":{"x":{"datum":"c","type":"nominal","bandPosition":1},"y":{"datum":"h2","type":"nominal"},"text":{"value":"Total"}}},
{"data":{"name":"B_tot"},"mark":{"type":"rule","color":"#555","strokeWidth":1.2},"encoding":{"y":{"datum":"Avalos et al, 2023","type":"nominal","bandPosition":0}}}
]},
{"width":49,"height":296.05,"data":{"name":"B"},"layer":[
{"mark":{"type":"text","align":"right"},"encoding":{"x":{"datum":"c","type":"nominal","bandPosition":1,"scale":{"type":"band","paddingInner":0,"paddingOuter":0}},"y":{"field":"study","type":"nominal","scale":{"type":"band","domain":["h1","h2","Avalos et al, 2023","Barros et al, 2006","Burns et al, 2006","Corsi et al, 2019","Dodge et al, 2023","Dunn et al, 2023","Koto et al, 2022","Leemaqz et al, 2016","Luke et al, 2019","Luke et al, 2022","Straub et al, 2019","Warshak et al, 2015","gap","Total (95% CI)","Total events","Heterogeneity","Test"],"paddingInner":0,"paddingOuter":0.05,"align":1}},"text":{"field":"w","type":"quantitative","format":".1%"}}},
{"data":{"name":"B_tot"},"mark":{"type":"text","align":"right","fontWeight":"bold"},"encoding":{"x":{"datum":"c","type":"nominal","bandPosition":1},"y":{"datum":"Total (95% CI)","type":"nominal"},"text":{"field":"w","type":"quantitative","format":".1%"}}},
{"data":{"name":"B_tot"},"mark":{"type":"text","align":"right","fontWeight":"bold"},"encoding":{"x":{"datum":"c","type":"nominal","bandPosition":1},"y":{"datum":"h2","type":"nominal"},"text":{"value":"Weight"}}},
{"data":{"name":"B_tot"},"mark":{"type":"rule","color":"#555","strokeWidth":1.2},"encoding":{"y":{"datum":"Avalos et al, 2023","type":"nominal","bandPosition":0}}}
]},
{"width":135,"height":296.05,"data":{"name":"B"},"layer":[
{"mark":{"type":"text","align":"right"},"encoding":{"x":{"datum":"c","type":"nominal","bandPosition":1,"scale":{"type":"band","paddingInner":0,"paddingOuter":0.04,"align":0}},"y":{"field":"study","type":"nominal","scale":{"type":"band","domain":["h1","h2","Avalos et al, 2023","Barros et al, 2006","Burns et al, 2006","Corsi et al, 2019","Dodge et al, 2023","Dunn et al, 2023","Koto et al, 2022","Leemaqz et al, 2016","Luke et al, 2019","Luke et al, 2022","Straub et al, 2019","Warshak et al, 2015","gap","Total (95% CI)","Total events","Heterogeneity","Test"],"paddingInner":0,"paddingOuter":0.05,"align":1}},"text":{"field":"ci"}}},
{"data":{"name":"B_tot"},"mark":{"type":"text","align":"right","fontWeight":"bold"},"encoding":{"x":{"datum":"c","type":"nominal","bandPosition":1},"y":{"datum":"Total (95% CI)","type":"nominal"},"text":{"field":"ci"}}},
{"data":{"name":"B_tot"},"mark":{"type":"text","align":"center","fontWeight":"bold"},"encoding":{"x":{"datum":"c","type":"nominal","bandPosition":0.5},"y":{"datum":"h1","type":"nominal"},"text":{"value":"Risk Ratio"}}},
{"data":{"name":"B_tot"},"mark":{"type":"text","align":"center","fontWeight":"bold"},"encoding":{"x":{"datum":"c","type":"nominal","bandPosition":0.5},"y":{"datum":"h2","type":"nominal"},"text":{"value":"M-H, Random, 95% CI"}}},
{"data":{"name":"B_tot"},"mark":{"type":"rule","color":"#555","strokeWidth":1.2},"encoding":{"y":{"datum":"Avalos et al, 2023","type":"nominal","bandPosition":0}}}
]},
{"width":270,"height":272.8,"data":{"name":"B"},"layer":[
{"mark":{"type":"rule","color":"#333"},"encoding":{"x":{"field":"lo","type":"quantitative","scale":{"type":"log","domain":[0.01,100],"range":[6,256],"clamp":true,"nice":false},"axis":{"values":[0.01,0.1,1,10,100],"format":"~g","title":null,"grid":false,"tickSize":4,"labelPadding":1,"labelFontSize":11,"labelColor":"#333","domainColor":"#333","tickColor":"#333","labelFlush":false,"labelOverlap":false}},"x2":{"field":"hi"},"y":{"field":"study","type":"nominal","scale":{"type":"band","domain":["h1","h2","Avalos et al, 2023","Barros et al, 2006","Burns et al, 2006","Corsi et al, 2019","Dodge et al, 2023","Dunn et al, 2023","Koto et al, 2022","Leemaqz et al, 2016","Luke et al, 2019","Luke et al, 2022","Straub et al, 2019","Warshak et al, 2015","gap","Total (95% CI)","Total events"],"paddingInner":0,"paddingOuter":0.3,"align":0.16667}}}},
{"data":{"name":"B_tot"},"mark":{"type":"rule","color":"#555","strokeWidth":1.2},"encoding":{"y":{"datum":"Avalos et al, 2023","type":"nominal","bandPosition":0}}},
{"data":{"name":"B_tot"},"mark":{"type":"rule","color":"#333"},"encoding":{"x":{"datum":1,"type":"quantitative"},"y":{"datum":"Avalos et al, 2023","type":"nominal","bandPosition":0},"y2":{"value":"height"}}},
{"mark":{"type":"square","color":"#1010a8","opacity":1},"encoding":{"x":{"field":"rr","type":"quantitative"},"y":{"field":"study","type":"nominal"},"size":{"field":"w","type":"quantitative","scale":{"type":"linear","domain":[0,0.2],"range":[0,30]},"legend":null}}},
{"data":{"name":"B_tot"},"mark":{"type":"point","shape":"M-1,0L0,-1L1,0L0,1Z","filled":true,"color":"#000","opacity":1,"size":90},"encoding":{"x":{"field":"rr","type":"quantitative"},"y":{"datum":"Total (95% CI)","type":"nominal"}}},
{"data":{"name":"B_tot"},"mark":{"type":"text","fontWeight":"bold"},"encoding":{"x":{"datum":1,"type":"quantitative"},"y":{"datum":"h1","type":"nominal"},"text":{"value":"Risk Ratio"}}},
{"data":{"name":"B_tot"},"mark":{"type":"text","fontWeight":"bold"},"encoding":{"x":{"datum":1,"type":"quantitative"},"y":{"datum":"h2","type":"nominal"},"text":{"value":"M-H, Random, 95% CI"}}},
{"data":{"name":"B_tot"},"mark":{"type":"text","align":"right","dx":-6,"dy":24,"color":"#444"},"encoding":{"x":{"datum":1,"type":"quantitative"},"y":{"value":"height"},"text":{"value":"MJ users"}}},
{"data":{"name":"B_tot"},"mark":{"type":"text","align":"left","dx":5,"dy":24,"color":"#444"},"encoding":{"x":{"datum":1,"type":"quantitative"},"y":{"value":"height"},"text":{"value":"MJ non-users"}}}
]},

{"width":130,"height":280.55,"data":{"name":"C"},"layer":[
{"mark":{"type":"text","align":"left"},"encoding":{"x":{"datum":"c","type":"nominal","bandPosition":0,"scale":{"type":"band","paddingInner":0,"paddingOuter":0.102}},"y":{"field":"study","type":"nominal","scale":{"type":"band","domain":["h1","h2","Bandoli et al, 2021","Barros et al, 2006","Dodge et al, 2023","Koto et al, 2022","Leemaqz et al, 2016","Luke et al, 2019","Luke et al, 2022","Metz et al, 2017","Prewitt et al, 2023","Rodriguez et al, 2019","Sasso et al, 2021","gap","Total (95% CI)","Total events","Heterogeneity","Test"],"paddingInner":0,"paddingOuter":0.05,"align":1}},"text":{"field":"study"}}},
{"data":{"name":"C_tot"},"mark":{"type":"text","align":"left","fontWeight":"bold"},"encoding":{"x":{"datum":"c","type":"nominal","bandPosition":0},"y":{"datum":"Total (95% CI)","type":"nominal"},"text":{"field":"label"}}},
{"data":{"name":"C_tot"},"mark":{"type":"text","align":"left"},"encoding":{"x":{"datum":"c","type":"nominal","bandPosition":0},"y":{"datum":"Total events","type":"nominal"},"text":{"value":"Total events"}}},
{"data":{"name":"C_tot"},"mark":{"type":"text","align":"left"},"encoding":{"x":{"datum":"c","type":"nominal","bandPosition":0},"y":{"datum":"Heterogeneity","type":"nominal"},"text":{"field":"het"}}},
{"data":{"name":"C_tot"},"mark":{"type":"text","align":"left"},"encoding":{"x":{"datum":"c","type":"nominal","bandPosition":0},"y":{"datum":"Test","type":"nominal"},"text":{"field":"test"}}},
{"data":{"name":"C_tot"},"mark":{"type":"text","align":"left","font":"DejaVu Sans","fontWeight":"bold","fontSize":10,"dx":4},"encoding":{"x":{"datum":"c","type":"nominal","bandPosition":0},"y":{"datum":"h1","type":"nominal"},"text":{"value":"C) Gestational Hypertension"}}},
{"data":{"name":"C_tot"},"mark":{"type":"text","align":"left","fontWeight":"bold"},"encoding":{"x":{"datum":"c","type":"nominal","bandPosition":0},"y":{"datum":"h2","type":"nominal"},"text":{"value":"Study or Subgroup"}}},
{"data":{"name":"C_tot"},"mark":{"type":"rule","color":"#555","strokeWidth":1.2},"encoding":{"y":{"datum":"Bandoli et al, 2021","type":"nominal","bandPosition":0}}}
]},
{"width":44,"height":280.55,"data":{"name":"C"},"layer":[
{"mark":{"type":"text","align":"right"},"encoding":{"x":{"datum":"c","type":"nominal","bandPosition":1,"scale":{"type":"band","paddingInner":0,"paddingOuter":0}},"y":{"field":"study","type":"nominal","scale":{"type":"band","domain":["h1","h2","Bandoli et al, 2021","Barros et al, 2006","Dodge et al, 2023","Koto et al, 2022","Leemaqz et al, 2016","Luke et al, 2019","Luke et al, 2022","Metz et al, 2017","Prewitt et al, 2023","Rodriguez et al, 2019","Sasso et al, 2021","gap","Total (95% CI)","Total events","Heterogeneity","Test"],"paddingInner":0,"paddingOuter":0.05,"align":1}},"text":{"field":"e1","type":"quantitative","format":"d"}}},
{"data":{"name":"C_tot"},"mark":{"type":"text","align":"right"},"encoding":{"x":{"datum":"c","type":"nominal","bandPosition":1},"y":{"datum":"Total events","type":"nominal"},"text":{"field":"e1","type":"quantitative","format":"d"}}},
{"data":{"name":"C_tot"},"mark":{"type":"text","align":"center","fontWeight":"bold","dx":35},"encoding":{"x":{"datum":"c","type":"nominal","bandPosition":1},"y":{"datum":"h1","type":"nominal"},"text":{"value":"MJ users"}}},
{"data":{"name":"C_tot"},"mark":{"type":"text","align":"right","fontWeight":"bold"},"encoding":{"x":{"datum":"c","type":"nominal","bandPosition":1},"y":{"datum":"h2","type":"nominal"},"text":{"value":"Events"}}},
{"data":{"name":"C_tot"},"mark":{"type":"rule","color":"#555","strokeWidth":1.2},"encoding":{"y":{"datum":"Bandoli et al, 2021","type":"nominal","bandPosition":0}}}
]},
{"width":44,"height":280.55,"data":{"name":"C"},"layer":[
{"mark":{"type":"text","align":"right"},"encoding":{"x":{"datum":"c","type":"nominal","bandPosition":1,"scale":{"type":"band","paddingInner":0,"paddingOuter":0}},"y":{"field":"study","type":"nominal","scale":{"type":"band","domain":["h1","h2","Bandoli et al, 2021","Barros et al, 2006","Dodge et al, 2023","Koto et al, 2022","Leemaqz et al, 2016","Luke et al, 2019","Luke et al, 2022","Metz et al, 2017","Prewitt et al, 2023","Rodriguez et al, 2019","Sasso et al, 2021","gap","Total (95% CI)","Total events","Heterogeneity","Test"],"paddingInner":0,"paddingOuter":0.05,"align":1}},"text":{"field":"n1","type":"quantitative","format":"d"}}},
{"data":{"name":"C_tot"},"mark":{"type":"text","align":"right","fontWeight":"bold"},"encoding":{"x":{"datum":"c","type":"nominal","bandPosition":1},"y":{"datum":"Total (95% CI)","type":"nominal"},"text":{"field":"n1","type":"quantitative","format":"d"}}},
{"data":{"name":"C_tot"},"mark":{"type":"text","align":"right","fontWeight":"bold"},"encoding":{"x":{"datum":"c","type":"nominal","bandPosition":1},"y":{"datum":"h2","type":"nominal"},"text":{"value":"Total"}}},
{"data":{"name":"C_tot"},"mark":{"type":"rule","color":"#555","strokeWidth":1.2},"encoding":{"y":{"datum":"Bandoli et al, 2021","type":"nominal","bandPosition":0}}}
]},
{"width":49,"height":280.55,"data":{"name":"C"},"layer":[
{"mark":{"type":"text","align":"right"},"encoding":{"x":{"datum":"c","type":"nominal","bandPosition":1,"scale":{"type":"band","paddingInner":0,"paddingOuter":0}},"y":{"field":"study","type":"nominal","scale":{"type":"band","domain":["h1","h2","Bandoli et al, 2021","Barros et al, 2006","Dodge et al, 2023","Koto et al, 2022","Leemaqz et al, 2016","Luke et al, 2019","Luke et al, 2022","Metz et al, 2017","Prewitt et al, 2023","Rodriguez et al, 2019","Sasso et al, 2021","gap","Total (95% CI)","Total events","Heterogeneity","Test"],"paddingInner":0,"paddingOuter":0.05,"align":1}},"text":{"field":"e2","type":"quantitative","format":"d"}}},
{"data":{"name":"C_tot"},"mark":{"type":"text","align":"right"},"encoding":{"x":{"datum":"c","type":"nominal","bandPosition":1},"y":{"datum":"Total events","type":"nominal"},"text":{"field":"e2","type":"quantitative","format":"d"}}},
{"data":{"name":"C_tot"},"mark":{"type":"text","align":"center","fontWeight":"bold","dx":17},"encoding":{"x":{"datum":"c","type":"nominal","bandPosition":1},"y":{"datum":"h1","type":"nominal"},"text":{"value":"MJ non-users"}}},
{"data":{"name":"C_tot"},"mark":{"type":"text","align":"right","fontWeight":"bold"},"encoding":{"x":{"datum":"c","type":"nominal","bandPosition":1},"y":{"datum":"h2","type":"nominal"},"text":{"value":"Events"}}},
{"data":{"name":"C_tot"},"mark":{"type":"rule","color":"#555","strokeWidth":1.2},"encoding":{"y":{"datum":"Bandoli et al, 2021","type":"nominal","bandPosition":0}}}
]},
{"width":56,"height":280.55,"data":{"name":"C"},"layer":[
{"mark":{"type":"text","align":"right"},"encoding":{"x":{"datum":"c","type":"nominal","bandPosition":1,"scale":{"type":"band","paddingInner":0,"paddingOuter":0}},"y":{"field":"study","type":"nominal","scale":{"type":"band","domain":["h1","h2","Bandoli et al, 2021","Barros et al, 2006","Dodge et al, 2023","Koto et al, 2022","Leemaqz et al, 2016","Luke et al, 2019","Luke et al, 2022","Metz et al, 2017","Prewitt et al, 2023","Rodriguez et al, 2019","Sasso et al, 2021","gap","Total (95% CI)","Total events","Heterogeneity","Test"],"paddingInner":0,"paddingOuter":0.05,"align":1}},"text":{"field":"n2","type":"quantitative","format":"d"}}},
{"data":{"name":"C_tot"},"mark":{"type":"text","align":"right","fontWeight":"bold"},"encoding":{"x":{"datum":"c","type":"nominal","bandPosition":1},"y":{"datum":"Total (95% CI)","type":"nominal"},"text":{"field":"n2","type":"quantitative","format":"d"}}},
{"data":{"name":"C_tot"},"mark":{"type":"text","align":"right","fontWeight":"bold"},"encoding":{"x":{"datum":"c","type":"nominal","bandPosition":1},"y":{"datum":"h2","type":"nominal"},"text":{"value":"Total"}}},
{"data":{"name":"C_tot"},"mark":{"type":"rule","color":"#555","strokeWidth":1.2},"encoding":{"y":{"datum":"Bandoli et al, 2021","type":"nominal","bandPosition":0}}}
]},
{"width":49,"height":280.55,"data":{"name":"C"},"layer":[
{"mark":{"type":"text","align":"right"},"encoding":{"x":{"datum":"c","type":"nominal","bandPosition":1,"scale":{"type":"band","paddingInner":0,"paddingOuter":0}},"y":{"field":"study","type":"nominal","scale":{"type":"band","domain":["h1","h2","Bandoli et al, 2021","Barros et al, 2006","Dodge et al, 2023","Koto et al, 2022","Leemaqz et al, 2016","Luke et al, 2019","Luke et al, 2022","Metz et al, 2017","Prewitt et al, 2023","Rodriguez et al, 2019","Sasso et al, 2021","gap","Total (95% CI)","Total events","Heterogeneity","Test"],"paddingInner":0,"paddingOuter":0.05,"align":1}},"text":{"field":"w","type":"quantitative","format":".1%"}}},
{"data":{"name":"C_tot"},"mark":{"type":"text","align":"right","fontWeight":"bold"},"encoding":{"x":{"datum":"c","type":"nominal","bandPosition":1},"y":{"datum":"Total (95% CI)","type":"nominal"},"text":{"field":"w","type":"quantitative","format":".1%"}}},
{"data":{"name":"C_tot"},"mark":{"type":"text","align":"right","fontWeight":"bold"},"encoding":{"x":{"datum":"c","type":"nominal","bandPosition":1},"y":{"datum":"h2","type":"nominal"},"text":{"value":"Weight"}}},
{"data":{"name":"C_tot"},"mark":{"type":"rule","color":"#555","strokeWidth":1.2},"encoding":{"y":{"datum":"Bandoli et al, 2021","type":"nominal","bandPosition":0}}}
]},
{"width":135,"height":280.55,"data":{"name":"C"},"layer":[
{"mark":{"type":"text","align":"right"},"encoding":{"x":{"datum":"c","type":"nominal","bandPosition":1,"scale":{"type":"band","paddingInner":0,"paddingOuter":0.04,"align":0}},"y":{"field":"study","type":"nominal","scale":{"type":"band","domain":["h1","h2","Bandoli et al, 2021","Barros et al, 2006","Dodge et al, 2023","Koto et al, 2022","Leemaqz et al, 2016","Luke et al, 2019","Luke et al, 2022","Metz et al, 2017","Prewitt et al, 2023","Rodriguez et al, 2019","Sasso et al, 2021","gap","Total (95% CI)","Total events","Heterogeneity","Test"],"paddingInner":0,"paddingOuter":0.05,"align":1}},"text":{"field":"ci"}}},
{"data":{"name":"C_tot"},"mark":{"type":"text","align":"right","fontWeight":"bold"},"encoding":{"x":{"datum":"c","type":"nominal","bandPosition":1},"y":{"datum":"Total (95% CI)","type":"nominal"},"text":{"field":"ci"}}},
{"data":{"name":"C_tot"},"mark":{"type":"text","align":"center","fontWeight":"bold"},"encoding":{"x":{"datum":"c","type":"nominal","bandPosition":0.5},"y":{"datum":"h1","type":"nominal"},"text":{"value":"Risk Ratio"}}},
{"data":{"name":"C_tot"},"mark":{"type":"text","align":"center","fontWeight":"bold"},"encoding":{"x":{"datum":"c","type":"nominal","bandPosition":0.5},"y":{"datum":"h2","type":"nominal"},"text":{"value":"M-H, Random, 95% CI"}}},
{"data":{"name":"C_tot"},"mark":{"type":"rule","color":"#555","strokeWidth":1.2},"encoding":{"y":{"datum":"Bandoli et al, 2021","type":"nominal","bandPosition":0}}}
]},
{"width":270,"height":257.3,"data":{"name":"C"},"layer":[
{"mark":{"type":"rule","color":"#333"},"encoding":{"x":{"field":"lo","type":"quantitative","scale":{"type":"log","domain":[0.072,12.2],"range":[10,262],"clamp":true,"nice":false},"axis":{"values":[0.1,0.2,0.5,1,2,5,10],"format":"~g","title":null,"grid":false,"tickSize":4,"labelPadding":1,"labelFontSize":11,"labelColor":"#333","domainColor":"#333","tickColor":"#333","labelFlush":false,"labelOverlap":false}},"x2":{"field":"hi"},"y":{"field":"study","type":"nominal","scale":{"type":"band","domain":["h1","h2","Bandoli et al, 2021","Barros et al, 2006","Dodge et al, 2023","Koto et al, 2022","Leemaqz et al, 2016","Luke et al, 2019","Luke et al, 2022","Metz et al, 2017","Prewitt et al, 2023","Rodriguez et al, 2019","Sasso et al, 2021","gap","Total (95% CI)","Total events"],"paddingInner":0,"paddingOuter":0.3,"align":0.16667}}}},
{"data":{"name":"C_tot"},"mark":{"type":"rule","color":"#555","strokeWidth":1.2},"encoding":{"y":{"datum":"Bandoli et al, 2021","type":"nominal","bandPosition":0}}},
{"data":{"name":"C_tot"},"mark":{"type":"rule","color":"#333"},"encoding":{"x":{"datum":1,"type":"quantitative"},"y":{"datum":"Bandoli et al, 2021","type":"nominal","bandPosition":0},"y2":{"value":"height"}}},
{"mark":{"type":"square","color":"#1010a8","opacity":1},"encoding":{"x":{"field":"rr","type":"quantitative"},"y":{"field":"study","type":"nominal"},"size":{"field":"w","type":"quantitative","scale":{"type":"linear","domain":[0,0.2],"range":[0,30]},"legend":null}}},
{"data":{"name":"C_tot"},"mark":{"type":"point","shape":"M-1,0L0,-0.75L1,0L0,0.75Z","filled":true,"color":"#000","opacity":1,"size":256},"encoding":{"x":{"field":"rr","type":"quantitative"},"y":{"datum":"Total (95% CI)","type":"nominal"}}},
{"data":{"name":"C_tot"},"mark":{"type":"text","fontWeight":"bold"},"encoding":{"x":{"datum":1,"type":"quantitative"},"y":{"datum":"h1","type":"nominal"},"text":{"value":"Risk Ratio"}}},
{"data":{"name":"C_tot"},"mark":{"type":"text","fontWeight":"bold"},"encoding":{"x":{"datum":1,"type":"quantitative"},"y":{"datum":"h2","type":"nominal"},"text":{"value":"M-H, Random, 95% CI"}}},
{"data":{"name":"C_tot"},"mark":{"type":"text","align":"right","dx":-6,"dy":24,"color":"#444"},"encoding":{"x":{"datum":1,"type":"quantitative"},"y":{"value":"height"},"text":{"value":"MJ users"}}},
{"data":{"name":"C_tot"},"mark":{"type":"text","align":"left","dx":5,"dy":24,"color":"#444"},"encoding":{"x":{"datum":1,"type":"quantitative"},"y":{"value":"height"},"text":{"value":"MJ non-users"}}}
]},

{"width":130,"height":249.55,"data":{"name":"D"},"layer":[
{"mark":{"type":"text","align":"left"},"encoding":{"x":{"datum":"c","type":"nominal","bandPosition":0,"scale":{"type":"band","paddingInner":0,"paddingOuter":0.102}},"y":{"field":"study","type":"nominal","scale":{"type":"band","domain":["h1","h2","Burns et al, 2006","Conner et al, 2015","Corsi et al, 2019","Dunn et al, 2023","Leemaqz et al, 2016","Luke et al, 2019","Luke et al, 2022","Prewitt et al, 2023","Warshak et al, 2015","gap","Total (95% CI)","Total events","Heterogeneity","Test"],"paddingInner":0,"paddingOuter":0.05,"align":1}},"text":{"field":"study"}}},
{"data":{"name":"D_tot"},"mark":{"type":"text","align":"left","fontWeight":"bold"},"encoding":{"x":{"datum":"c","type":"nominal","bandPosition":0},"y":{"datum":"Total (95% CI)","type":"nominal"},"text":{"field":"label"}}},
{"data":{"name":"D_tot"},"mark":{"type":"text","align":"left"},"encoding":{"x":{"datum":"c","type":"nominal","bandPosition":0},"y":{"datum":"Total events","type":"nominal"},"text":{"value":"Total events"}}},
{"data":{"name":"D_tot"},"mark":{"type":"text","align":"left"},"encoding":{"x":{"datum":"c","type":"nominal","bandPosition":0},"y":{"datum":"Heterogeneity","type":"nominal"},"text":{"field":"het"}}},
{"data":{"name":"D_tot"},"mark":{"type":"text","align":"left"},"encoding":{"x":{"datum":"c","type":"nominal","bandPosition":0},"y":{"datum":"Test","type":"nominal"},"text":{"field":"test"}}},
{"data":{"name":"D_tot"},"mark":{"type":"text","align":"left","font":"DejaVu Sans","fontWeight":"bold","fontSize":10,"dx":5,"dy":-10},"encoding":{"x":{"datum":"c","type":"nominal","bandPosition":0},"y":{"datum":"h1","type":"nominal"},"text":{"value":"D) Preeclampsia"}}},
{"data":{"name":"D_tot"},"mark":{"type":"text","align":"left","fontWeight":"bold"},"encoding":{"x":{"datum":"c","type":"nominal","bandPosition":0},"y":{"datum":"h2","type":"nominal"},"text":{"value":"Study or Subgroup"}}},
{"data":{"name":"D_tot"},"mark":{"type":"rule","color":"#555","strokeWidth":1.2},"encoding":{"y":{"datum":"Burns et al, 2006","type":"nominal","bandPosition":0}}}
]},
{"width":44,"height":249.55,"data":{"name":"D"},"layer":[
{"mark":{"type":"text","align":"right"},"encoding":{"x":{"datum":"c","type":"nominal","bandPosition":1,"scale":{"type":"band","paddingInner":0,"paddingOuter":0}},"y":{"field":"study","type":"nominal","scale":{"type":"band","domain":["h1","h2","Burns et al, 2006","Conner et al, 2015","Corsi et al, 2019","Dunn et al, 2023","Leemaqz et al, 2016","Luke et al, 2019","Luke et al, 2022","Prewitt et al, 2023","Warshak et al, 2015","gap","Total (95% CI)","Total events","Heterogeneity","Test"],"paddingInner":0,"paddingOuter":0.05,"align":1}},"text":{"field":"e1","type":"quantitative","format":"d"}}},
{"data":{"name":"D_tot"},"mark":{"type":"text","align":"right"},"encoding":{"x":{"datum":"c","type":"nominal","bandPosition":1},"y":{"datum":"Total events","type":"nominal"},"text":{"field":"e1","type":"quantitative","format":"d"}}},
{"data":{"name":"D_tot"},"mark":{"type":"text","align":"center","fontWeight":"bold"},"encoding":{"x":{"datum":"c","type":"nominal","bandPosition":1},"y":{"datum":"h1","type":"nominal"},"text":{"value":"MJ users"}}},
{"data":{"name":"D_tot"},"mark":{"type":"text","align":"right","fontWeight":"bold"},"encoding":{"x":{"datum":"c","type":"nominal","bandPosition":1},"y":{"datum":"h2","type":"nominal"},"text":{"value":"Events"}}},
{"data":{"name":"D_tot"},"mark":{"type":"rule","color":"#555","strokeWidth":1.2},"encoding":{"y":{"datum":"Burns et al, 2006","type":"nominal","bandPosition":0}}}
]},
{"width":44,"height":249.55,"data":{"name":"D"},"layer":[
{"mark":{"type":"text","align":"right"},"encoding":{"x":{"datum":"c","type":"nominal","bandPosition":1,"scale":{"type":"band","paddingInner":0,"paddingOuter":0}},"y":{"field":"study","type":"nominal","scale":{"type":"band","domain":["h1","h2","Burns et al, 2006","Conner et al, 2015","Corsi et al, 2019","Dunn et al, 2023","Leemaqz et al, 2016","Luke et al, 2019","Luke et al, 2022","Prewitt et al, 2023","Warshak et al, 2015","gap","Total (95% CI)","Total events","Heterogeneity","Test"],"paddingInner":0,"paddingOuter":0.05,"align":1}},"text":{"field":"n1","type":"quantitative","format":"d"}}},
{"data":{"name":"D_tot"},"mark":{"type":"text","align":"right","fontWeight":"bold"},"encoding":{"x":{"datum":"c","type":"nominal","bandPosition":1},"y":{"datum":"Total (95% CI)","type":"nominal"},"text":{"field":"n1","type":"quantitative","format":"d"}}},
{"data":{"name":"D_tot"},"mark":{"type":"text","align":"right","fontWeight":"bold"},"encoding":{"x":{"datum":"c","type":"nominal","bandPosition":1},"y":{"datum":"h2","type":"nominal"},"text":{"value":"Total"}}},
{"data":{"name":"D_tot"},"mark":{"type":"rule","color":"#555","strokeWidth":1.2},"encoding":{"y":{"datum":"Burns et al, 2006","type":"nominal","bandPosition":0}}}
]},
{"width":49,"height":249.55,"data":{"name":"D"},"layer":[
{"mark":{"type":"text","align":"right"},"encoding":{"x":{"datum":"c","type":"nominal","bandPosition":1,"scale":{"type":"band","paddingInner":0,"paddingOuter":0}},"y":{"field":"study","type":"nominal","scale":{"type":"band","domain":["h1","h2","Burns et al, 2006","Conner et al, 2015","Corsi et al, 2019","Dunn et al, 2023","Leemaqz et al, 2016","Luke et al, 2019","Luke et al, 2022","Prewitt et al, 2023","Warshak et al, 2015","gap","Total (95% CI)","Total events","Heterogeneity","Test"],"paddingInner":0,"paddingOuter":0.05,"align":1}},"text":{"field":"e2","type":"quantitative","format":"d"}}},
{"data":{"name":"D_tot"},"mark":{"type":"text","align":"right"},"encoding":{"x":{"datum":"c","type":"nominal","bandPosition":1},"y":{"datum":"Total events","type":"nominal"},"text":{"field":"e2","type":"quantitative","format":"d"}}},
{"data":{"name":"D_tot"},"mark":{"type":"text","align":"center","fontWeight":"bold","dx":3},"encoding":{"x":{"datum":"c","type":"nominal","bandPosition":1},"y":{"datum":"h1","type":"nominal"},"text":{"value":"MJ non-users"}}},
{"data":{"name":"D_tot"},"mark":{"type":"text","align":"right","fontWeight":"bold"},"encoding":{"x":{"datum":"c","type":"nominal","bandPosition":1},"y":{"datum":"h2","type":"nominal"},"text":{"value":"Events"}}},
{"data":{"name":"D_tot"},"mark":{"type":"rule","color":"#555","strokeWidth":1.2},"encoding":{"y":{"datum":"Burns et al, 2006","type":"nominal","bandPosition":0}}}
]},
{"width":56,"height":249.55,"data":{"name":"D"},"layer":[
{"mark":{"type":"text","align":"right"},"encoding":{"x":{"datum":"c","type":"nominal","bandPosition":1,"scale":{"type":"band","paddingInner":0,"paddingOuter":0}},"y":{"field":"study","type":"nominal","scale":{"type":"band","domain":["h1","h2","Burns et al, 2006","Conner et al, 2015","Corsi et al, 2019","Dunn et al, 2023","Leemaqz et al, 2016","Luke et al, 2019","Luke et al, 2022","Prewitt et al, 2023","Warshak et al, 2015","gap","Total (95% CI)","Total events","Heterogeneity","Test"],"paddingInner":0,"paddingOuter":0.05,"align":1}},"text":{"field":"n2","type":"quantitative","format":"d"}}},
{"data":{"name":"D_tot"},"mark":{"type":"text","align":"right","fontWeight":"bold"},"encoding":{"x":{"datum":"c","type":"nominal","bandPosition":1},"y":{"datum":"Total (95% CI)","type":"nominal"},"text":{"field":"n2","type":"quantitative","format":"d"}}},
{"data":{"name":"D_tot"},"mark":{"type":"text","align":"right","fontWeight":"bold"},"encoding":{"x":{"datum":"c","type":"nominal","bandPosition":1},"y":{"datum":"h2","type":"nominal"},"text":{"value":"Total"}}},
{"data":{"name":"D_tot"},"mark":{"type":"rule","color":"#555","strokeWidth":1.2},"encoding":{"y":{"datum":"Burns et al, 2006","type":"nominal","bandPosition":0}}}
]},
{"width":49,"height":249.55,"data":{"name":"D"},"layer":[
{"mark":{"type":"text","align":"right"},"encoding":{"x":{"datum":"c","type":"nominal","bandPosition":1,"scale":{"type":"band","paddingInner":0,"paddingOuter":0}},"y":{"field":"study","type":"nominal","scale":{"type":"band","domain":["h1","h2","Burns et al, 2006","Conner et al, 2015","Corsi et al, 2019","Dunn et al, 2023","Leemaqz et al, 2016","Luke et al, 2019","Luke et al, 2022","Prewitt et al, 2023","Warshak et al, 2015","gap","Total (95% CI)","Total events","Heterogeneity","Test"],"paddingInner":0,"paddingOuter":0.05,"align":1}},"text":{"field":"w","type":"quantitative","format":".1%"}}},
{"data":{"name":"D_tot"},"mark":{"type":"text","align":"right","fontWeight":"bold"},"encoding":{"x":{"datum":"c","type":"nominal","bandPosition":1},"y":{"datum":"Total (95% CI)","type":"nominal"},"text":{"field":"w","type":"quantitative","format":".1%"}}},
{"data":{"name":"D_tot"},"mark":{"type":"text","align":"right","fontWeight":"bold"},"encoding":{"x":{"datum":"c","type":"nominal","bandPosition":1},"y":{"datum":"h2","type":"nominal"},"text":{"value":"Weight"}}},
{"data":{"name":"D_tot"},"mark":{"type":"rule","color":"#555","strokeWidth":1.2},"encoding":{"y":{"datum":"Burns et al, 2006","type":"nominal","bandPosition":0}}}
]},
{"width":135,"height":249.55,"data":{"name":"D"},"layer":[
{"mark":{"type":"text","align":"right"},"encoding":{"x":{"datum":"c","type":"nominal","bandPosition":1,"scale":{"type":"band","paddingInner":0,"paddingOuter":0.04,"align":0}},"y":{"field":"study","type":"nominal","scale":{"type":"band","domain":["h1","h2","Burns et al, 2006","Conner et al, 2015","Corsi et al, 2019","Dunn et al, 2023","Leemaqz et al, 2016","Luke et al, 2019","Luke et al, 2022","Prewitt et al, 2023","Warshak et al, 2015","gap","Total (95% CI)","Total events","Heterogeneity","Test"],"paddingInner":0,"paddingOuter":0.05,"align":1}},"text":{"field":"ci"}}},
{"data":{"name":"D_tot"},"mark":{"type":"text","align":"right","fontWeight":"bold"},"encoding":{"x":{"datum":"c","type":"nominal","bandPosition":1},"y":{"datum":"Total (95% CI)","type":"nominal"},"text":{"field":"ci"}}},
{"data":{"name":"D_tot"},"mark":{"type":"text","align":"center","fontWeight":"bold"},"encoding":{"x":{"datum":"c","type":"nominal","bandPosition":0.5},"y":{"datum":"h1","type":"nominal"},"text":{"value":"Risk Ratio"}}},
{"data":{"name":"D_tot"},"mark":{"type":"text","align":"center","fontWeight":"bold"},"encoding":{"x":{"datum":"c","type":"nominal","bandPosition":0.5},"y":{"datum":"h2","type":"nominal"},"text":{"value":"M-H, Random, 95% CI"}}},
{"data":{"name":"D_tot"},"mark":{"type":"rule","color":"#555","strokeWidth":1.2},"encoding":{"y":{"datum":"Burns et al, 2006","type":"nominal","bandPosition":0}}}
]},
{"width":270,"height":226.3,"data":{"name":"D"},"layer":[
{"mark":{"type":"rule","color":"#333"},"encoding":{"x":{"field":"lo","type":"quantitative","scale":{"type":"log","domain":[0.036,21.6],"range":[2,253],"clamp":true,"nice":false},"axis":{"values":[0.05,0.2,1,5,20],"format":"~g","title":null,"grid":false,"tickSize":4,"labelPadding":1,"labelFontSize":11,"labelColor":"#333","domainColor":"#333","tickColor":"#333","labelFlush":false,"labelOverlap":false}},"x2":{"field":"hi"},"y":{"field":"study","type":"nominal","scale":{"type":"band","domain":["h1","h2","Burns et al, 2006","Conner et al, 2015","Corsi et al, 2019","Dunn et al, 2023","Leemaqz et al, 2016","Luke et al, 2019","Luke et al, 2022","Prewitt et al, 2023","Warshak et al, 2015","gap","Total (95% CI)","Total events"],"paddingInner":0,"paddingOuter":0.3,"align":0.16667}}}},
{"data":{"name":"D_tot"},"mark":{"type":"rule","color":"#555","strokeWidth":1.2},"encoding":{"y":{"datum":"Burns et al, 2006","type":"nominal","bandPosition":0}}},
{"data":{"name":"D_tot"},"mark":{"type":"rule","color":"#333"},"encoding":{"x":{"datum":1,"type":"quantitative"},"y":{"datum":"Burns et al, 2006","type":"nominal","bandPosition":0},"y2":{"value":"height"}}},
{"transform":[{"filter":"datum.hi > 21.6"}],"mark":{"type":"point","shape":"triangle-right","filled":true,"color":"#000","opacity":1,"size":28},"encoding":{"x":{"field":"hi","type":"quantitative"},"y":{"field":"study","type":"nominal"}}},
{"mark":{"type":"square","color":"#1010a8","opacity":1},"encoding":{"x":{"field":"rr","type":"quantitative"},"y":{"field":"study","type":"nominal"},"size":{"field":"w","type":"quantitative","scale":{"type":"linear","domain":[0,0.2],"range":[0,30]},"legend":null}}},
{"data":{"name":"D_tot"},"mark":{"type":"point","shape":"M-1,0L0,-0.75L1,0L0,0.75Z","filled":true,"color":"#000","opacity":1,"size":256},"encoding":{"x":{"field":"rr","type":"quantitative"},"y":{"datum":"Total (95% CI)","type":"nominal"}}},
{"data":{"name":"D_tot"},"mark":{"type":"text","fontWeight":"bold"},"encoding":{"x":{"datum":1,"type":"quantitative"},"y":{"datum":"h1","type":"nominal"},"text":{"value":"Risk Ratio"}}},
{"data":{"name":"D_tot"},"mark":{"type":"text","fontWeight":"bold"},"encoding":{"x":{"datum":1,"type":"quantitative"},"y":{"datum":"h2","type":"nominal"},"text":{"value":"M-H, Random, 95% CI"}}},
{"data":{"name":"D_tot"},"mark":{"type":"text","align":"right","dx":-6,"dy":24,"color":"#444"},"encoding":{"x":{"datum":1,"type":"quantitative"},"y":{"value":"height"},"text":{"value":"MJ users"}}},
{"data":{"name":"D_tot"},"mark":{"type":"text","align":"left","dx":5,"dy":24,"color":"#444"},"encoding":{"x":{"datum":1,"type":"quantitative"},"y":{"value":"height"},"text":{"value":"MJ non-users"}}}
]}

]}
]
}
